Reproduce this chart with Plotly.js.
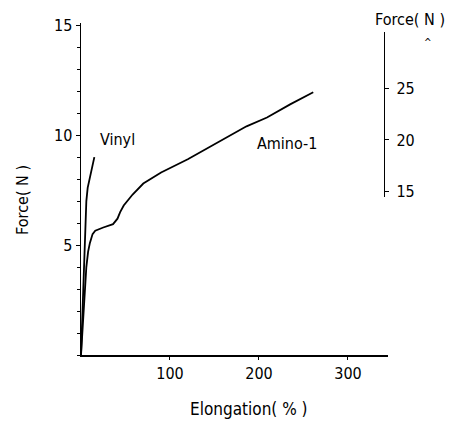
<!DOCTYPE html>
<html>
<head>
<meta charset="utf-8">
<script src="https://cdn.plot.ly/plotly-3.0.1.min.js"></script>
<style>html,body{margin:0;padding:0;background:#fff;}#chart{width:457px;height:421px;}</style>
</head>
<body>
<div id="chart"></div>
<script>
// Vinyl curve: elongation (%) vs force (N)
const vinylElong = [0, 1, 2, 3, 4, 5, 6, 7.5, 10, 12.5, 15];
const vinylForce = [0, 1.2, 2.3, 3.6, 5.0, 6.2, 7.0, 7.6, 8.1, 8.5, 9.0];

// Amino-1 curve
const aminoElong = [0, 2, 4, 6, 8, 10, 13, 16, 25, 36, 41, 44, 48, 58, 70, 90, 120, 148, 186, 209, 235, 261];
const aminoForce = [0, 1.5, 3.0, 4.0, 4.7, 5.1, 5.5, 5.65, 5.8, 5.95, 6.2, 6.5, 6.8, 7.3, 7.8, 8.3, 8.9, 9.55, 10.4, 10.8, 11.4, 11.95];

const xTicks = [100, 200, 300];
const yTicks = [5, 10, 15];
const y2Ticks = [15, 20, 25];

const FONT = "'DejaVu Sans Condensed', 'Liberation Sans Narrow', 'Roboto Condensed', 'Liberation Sans', Arial, sans-serif";
const FS = 16;

const data = [
  {x: vinylElong, y: vinylForce, type: 'scatter', mode: 'lines', name: 'Vinyl',
   line: {color: '#000', width: 1.8}, showlegend: false},
  {x: aminoElong, y: aminoForce, type: 'scatter', mode: 'lines', name: 'Amino-1',
   line: {color: '#000', width: 1.8}, showlegend: false},
  {x: [], y: [], type: 'scatter', mode: 'lines', xaxis: 'x2', yaxis: 'y2', showlegend: false, hoverinfo: 'skip'}
];

const layout = {
  width: 457, height: 421,
  margin: {l: 81, r: 69, t: 23, b: 66},
  paper_bgcolor: '#fff', plot_bgcolor: 'rgba(0,0,0,0)',
  font: {family: FONT, size: FS, color: '#000'},
  showlegend: false,
  xaxis: {
    range: [0, 345], tickvals: xTicks, ticktext: xTicks.map(String),
    showgrid: false, zeroline: false, showline: true, linecolor: '#000', linewidth: 1.5,
    ticks: 'outside', ticklen: 3, tickcolor: '#000', tickfont: {family: FONT, size: FS, color: '#000'}
  },
  yaxis: {
    range: [0, 15.1], tickvals: yTicks, ticktext: yTicks.map(String),
    showgrid: false, zeroline: false, showline: true, linecolor: '#000', linewidth: 1.5,
    ticks: 'outside', ticklen: 4, tickcolor: '#000', tickfont: {family: FONT, size: FS, color: '#000'},
    minor: {dtick: 1, tick0: 0, ticks: 'outside', ticklen: 3, tickcolor: '#000', showgrid: false}
  },
  xaxis2: {
    domain: [0, 0.986], anchor: 'y2', visible: false, range: [0, 1]
  },
  yaxis2: {
    anchor: 'x2', side: 'right', domain: [0.476, 0.973],
    range: [14.5, 30.4], tickvals: y2Ticks, ticktext: y2Ticks.map(String),
    showgrid: false, zeroline: false, showline: true, linecolor: '#000', linewidth: 1.5,
    ticks: 'outside', ticklen: 4, tickcolor: '#000', ticklabelstandoff: 4,
    tickfont: {family: FONT, size: FS, color: '#000'}
  },
  annotations: [
    {text: 'Vinyl', x: 41.5, y: 9.8, xref: 'x', yref: 'y', xanchor: 'center', yanchor: 'middle', showarrow: false, font: {family: FONT, size: FS, color: '#000'}},
    {text: 'Amino-1', x: 231, y: 9.64, xref: 'x', yref: 'y', xanchor: 'center', yanchor: 'middle', showarrow: false, font: {family: FONT, size: FS, color: '#000'}},
    {text: 'Force( N )', x: 1.072, y: 1.01, xref: 'paper', yref: 'paper', xanchor: 'center', yanchor: 'middle', showarrow: false, font: {family: FONT, size: FS, color: '#000'}},
    {text: '^', x: 1.130, y: 0.94, xref: 'paper', yref: 'paper', xanchor: 'center', yanchor: 'middle', showarrow: false, font: {family: FONT, size: 10, color: '#000'}},
    {text: 'Elongation( % )', x: 0.547, y: -0.163, xref: 'paper', yref: 'paper', xanchor: 'center', yanchor: 'middle', showarrow: false, font: {family: FONT, size: 17, color: '#000'}},
    {text: 'Force( N )', x: -0.189, y: 0.467, xref: 'paper', yref: 'paper', xanchor: 'center', yanchor: 'middle', showarrow: false, textangle: -90, font: {family: FONT, size: FS, color: '#000'}}
  ]
};

Plotly.newPlot('chart', data, layout, {displayModeBar: false, staticPlot: true});
</script>
</body>
</html>
